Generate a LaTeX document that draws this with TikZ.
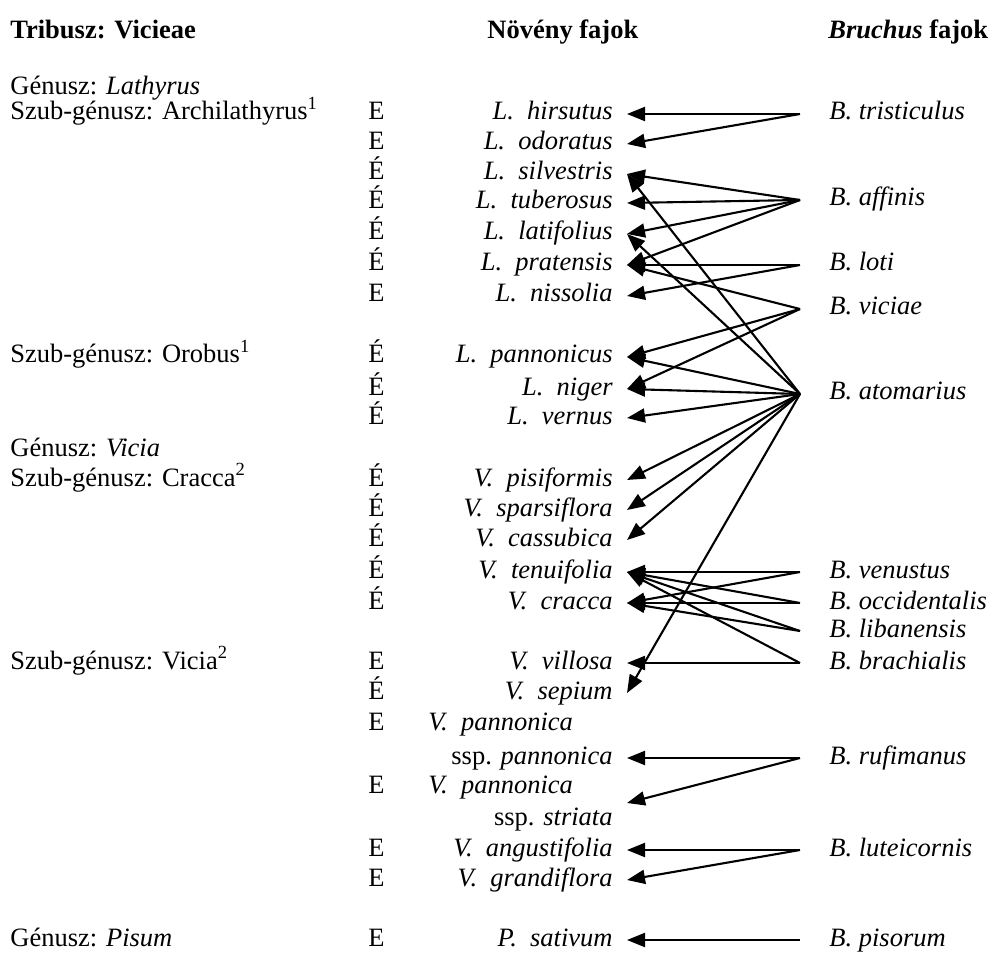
\documentclass[tikz,border=0pt]{standalone}
\usepackage{fontspec}
\setmainfont{Liberation Serif}
\usetikzlibrary{arrows.meta}

\tikzset{
	txt/.style={inner sep=0pt, text height=9pt, text depth=3pt, font=\fontsize{13.25}{15}\selectfont},
	head/.style={txt, anchor=west, font=\fontsize{13.25}{15}\selectfont\bfseries},
	taxon/.style={txt, anchor=west},
	eecol/.style={txt, anchor=west},
	plant/.style={txt, anchor=east, inner xsep=7pt, font=\fontsize{13.25}{15}\selectfont\itshape},
	plantL/.style={txt, anchor=west, font=\fontsize{13.25}{15}\selectfont\itshape},
	bug/.style={txt, anchor=west, inner xsep=14.5pt, font=\fontsize{13.25}{15}\selectfont\itshape},
	arr/.style={-{Triangle[length=9pt,width=7pt]}, line width=1.05pt},
}

\begin{document}
\begin{tikzpicture}[x=0.5pt, y=-0.5pt]
		\useasboundingbox (0,0) rectangle (994,956);

		% column heads
		\node[head] (hTrib) at (10,33) {Tribusz: Vicieae};
		\node[head] (hNov) at (487,33) {Növény fajok};
		\node[head] (hBru) at (828,33) {\textit{Bruchus} fajok};

		% taxa on the left
		\node[taxon] (gLat) at (10,89) {Génusz: \textit{Lathyrus}};
		\node[taxon] (sArc) at (10,114) {Szub-génusz: Archilathyrus\textsuperscript{1}};
		\node[taxon] (sOro) at (10,357) {Szub-génusz: Orobus\textsuperscript{1}};
		\node[taxon] (gVic) at (10,450) {Génusz: \textit{Vicia}};
		\node[taxon] (sCra) at (10,480) {Szub-génusz: Cracca\textsuperscript{2}};
		\node[taxon] (sVic) at (10,663) {Szub-génusz: Vicia\textsuperscript{2}};
		\node[taxon] (gPis) at (10,940) {Génusz: \textit{Pisum}};

		% E / É
		\foreach \y/\t [count=\i] in {114/E, 144/E, 174/É, 203/É, 234/É, 265/É, 296/E,
				357/É, 389/É, 418/É, 480/É, 510/É, 540/É, 572/É, 603/É,
				663/E, 693/É, 724/E, 787/E, 850/E, 880/E, 940/E} {
				\node[eecol] (ee\i) at (368,\y) {\t};
			}

		% plant species
		\foreach \n/\y/\t in {hirs/114/{L.\ \ hirsutus}, odor/144/{L.\ \ odoratus},
				silv/174/{L.\ \ silvestris}, tube/203/{L.\ \ tuberosus},
				lati/234/{L.\ \ latifolius}, prat/265/{L.\ \ pratensis},
				niss/296/{L.\ \ nissolia}, pann/357/{L.\ \ pannonicus},
				nige/389/{L.\ \ niger}, vern/418/{L.\ \ vernus},
				pisi/480/{V.\ \ pisiformis}, spar/510/{V.\ \ sparsiflora},
				cass/540/{V.\ \ cassubica}, tenu/572/{V.\ \ tenuifolia},
				crac/603/{V.\ \ cracca}, vill/663/{V.\ \ villosa},
				sepi/693/{V.\ \ sepium}, angu/850/{V.\ \ angustifolia},
				gran/880/{V.\ \ grandiflora}, sati/940/{P.\ \ sativum}} {
				\node[plant] (\n) at (627,\y) {\t};
			}
		\node[plantL] (vpanA) at (428,724) {V.\ \ pannonica};
		\node[plant] (sspA) at (627,758) {\textup{ssp.} pannonica};
		\node[plantL] (vpanB) at (428,787) {V.\ \ pannonica};
		\node[plant] (sspB) at (627,819) {\textup{ssp.} striata};
		\coordinate (striata) at (627,803);

		% Bruchus species
		\foreach \n/\y/\t in {btri/114/tristiculus, baff/200/affinis, blot/265/loti,
				bvic/309/viciae, bato/394/atomarius, bven/572/venustus,
				bocc/603/occidentalis, blib/631/libanensis, bbra/663/brachialis,
				bruf/758/rufimanus, blut/850/luteicornis, bpis/940/pisorum} {
				\node[bug] (\n) at (800,\y) {B. \t};
			}

		% host links
		\foreach \b/\p in {btri/hirs, btri/odor,
				baff/silv, baff/tube, baff/lati, baff/prat,
				blot/prat, blot/niss,
				bvic/prat, bvic/pann, bvic/nige,
				bato/silv, bato/lati, bato/pann, bato/nige, bato/vern,
				bato/pisi, bato/spar, bato/cass, bato/sepi,
				bven/tenu, bven/crac, bocc/tenu, bocc/crac,
				blib/tenu, blib/crac, bbra/tenu, bbra/vill,
				bruf/sspA, blut/angu, blut/gran, bpis/sati} {
				\draw[arr] (\b.west) -- (\p.east);
			}
		\draw[arr] (bruf.west) -- (striata);
	\end{tikzpicture}
\end{document}
